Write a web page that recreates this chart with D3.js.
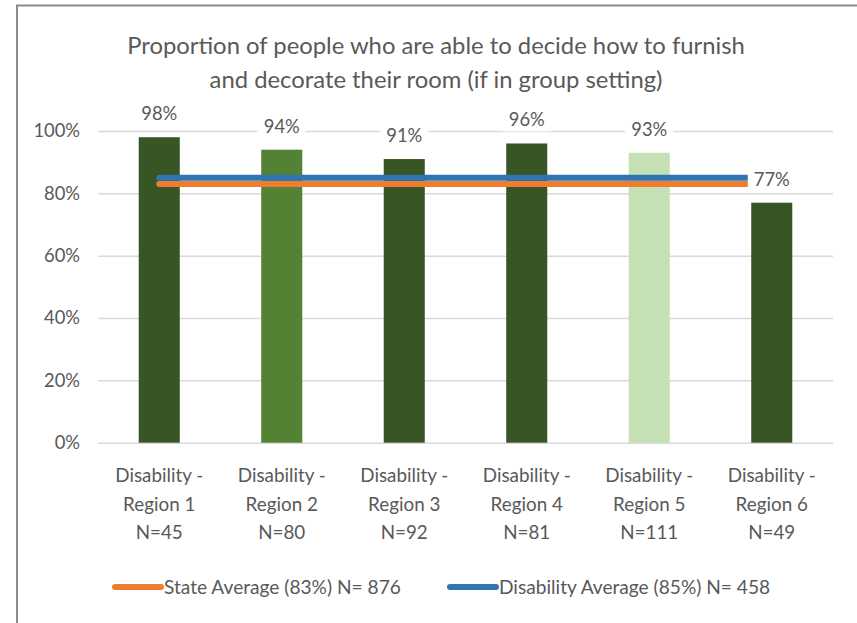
<!DOCTYPE html>
<html>
<head>
<meta charset="utf-8">
<script src="https://cdn.jsdelivr.net/npm/d3@7"></script>
<style>
  html, body { margin: 0; padding: 0; background: #fff; }
  svg { display: block; }
  text { font-family: Lato, "Open Sans", sans-serif; fill: #595959; }
</style>
</head>
<body>
<svg id="chart" width="857" height="623"></svg>
<script>
// Regions and their share of people able to choose furnishings/decor
const categories = [
  ["Disability -", "Region 1", "N=45"],
  ["Disability -", "Region 2", "N=80"],
  ["Disability -", "Region 3", "N=92"],
  ["Disability -", "Region 4", "N=81"],
  ["Disability -", "Region 5", "N=111"],
  ["Disability -", "Region 6", "N=49"]
];
const values = [98, 94, 91, 96, 93, 77];
const barColors = ["#375623", "#548235", "#375623", "#375623", "#C5E0B4", "#375623"];

// Reference averages drawn as horizontal lines
const averageNames = ["State Average (83%) N= 876", "Disability Average (85%) N= 458"];
const averageValues = [83, 85];
const averageColors = ["#ED7D31", "#2E75B6"];
// Span of the average lines, in category units along the x axis
const lineSpan = [0.5, 5.3];

const yTicks = [0, 20, 40, 60, 80, 100];
const titleLines = [
  "Proportion of people who are able to decide how to furnish",
  "and decorate their room (if in group setting)"
];

const averages = averageNames.map((name, i) => ({ name, value: averageValues[i], color: averageColors[i] }));

const svg = d3.select("#chart");
const plot = { left: 98, right: 833, top: 131, bottom: 442.7 };

// Pick a font size so that a sample string renders at the wanted width
function fitSize(sample, width) {
  const t = svg.append("text").attr("font-size", 100).text(sample);
  const w = t.node().getComputedTextLength();
  t.remove();
  return 100 * width / w;
}
const titleSize = fitSize(titleLines[0], 618);
const catSize = fitSize("Disability -", 88);
const tickSize = fitSize("80%", 36);
const legendSize = fitSize(averageNames[0], 237);

// Chart frame
svg.append("path")
  .attr("d", `M17,623 V5.5 H857`)
  .attr("fill", "none")
  .attr("stroke", "#8C8C8C")
  .attr("stroke-width", 2);

const x = d3.scaleBand()
  .domain(d3.range(categories.length))
  .range([plot.left, plot.right])
  .paddingInner(0.665)
  .paddingOuter(0.3325);
const xLin = d3.scaleLinear().domain([0, categories.length]).range([plot.left, plot.right]);
const y = d3.scaleLinear().domain([0, 100]).range([plot.bottom, plot.top]);

// Title
svg.append("g").selectAll("text")
  .data(titleLines)
  .join("text")
  .attr("x", 436)
  .attr("y", (d, i) => 54 + i * 34)
  .attr("text-anchor", "middle")
  .attr("font-size", titleSize)
  .text(d => d);

// Gridlines and y tick labels
const yAxis = svg.append("g")
  .attr("transform", `translate(${plot.left},0)`)
  .call(d3.axisLeft(y).tickValues(yTicks).tickFormat(d => d + "%")
    .tickSize(-(plot.right - plot.left)).tickPadding(18));
yAxis.select(".domain").remove();
yAxis.selectAll(".tick line").attr("stroke", "#D9D9D9").attr("stroke-width", 1.5);
yAxis.selectAll(".tick text")
  .attr("font-size", tickSize)
  .attr("fill", "#595959")
  .attr("font-family", "Lato, 'Open Sans', sans-serif");

// Bars
svg.append("g").selectAll("rect")
  .data(values)
  .join("rect")
  .attr("x", (d, i) => x(i))
  .attr("width", x.bandwidth())
  .attr("y", d => y(d))
  .attr("height", d => y(0) - y(d))
  .attr("fill", (d, i) => barColors[i]);

// Average lines
svg.append("g").selectAll("line")
  .data(averages)
  .join("line")
  .attr("x1", xLin(lineSpan[0]))
  .attr("x2", xLin(lineSpan[1]))
  .attr("y1", d => y(d.value))
  .attr("y2", d => y(d.value))
  .attr("stroke", d => d.color)
  .attr("stroke-width", 6)
  .attr("stroke-linecap", "round");

// Value labels with white backing
const labels = svg.append("g").selectAll("g")
  .data(values)
  .join("g")
  .attr("transform", (d, i) => `translate(${x(i) + x.bandwidth() / 2},${y(d) - 17})`);
const labelRects = labels.append("rect").attr("fill", "#fff");
labels.append("text")
  .attr("text-anchor", "middle")
  .attr("font-size", tickSize)
  .text(d => d + "%")
  .each(function () {
    const b = this.getBBox();
    d3.select(this.parentNode).select("rect")
      .attr("x", b.x - 6).attr("y", b.y - 1)
      .attr("width", b.width + 12).attr("height", b.height + 2);
  });

// Category labels
const cat = svg.append("g").selectAll("text")
  .data(categories)
  .join("text")
  .attr("text-anchor", "middle")
  .attr("font-size", catSize)
  .attr("x", (d, i) => x(i) + x.bandwidth() / 2);
cat.selectAll("tspan")
  .data(d => d)
  .join("tspan")
  .attr("x", function () { return d3.select(this.parentNode).attr("x"); })
  .attr("y", (d, i) => 482 + i * 28.7)
  .text(d => d);

// Legend
const legendX = [113, 448];
const leg = svg.append("g").selectAll("g")
  .data(averages)
  .join("g")
  .attr("transform", (d, i) => `translate(${legendX[i]},587)`);
leg.append("line")
  .attr("x1", 2).attr("x2", 48)
  .attr("stroke", d => d.color)
  .attr("stroke-width", 6)
  .attr("stroke-linecap", "round");
leg.append("text")
  .attr("x", 51)
  .attr("y", legendSize * 0.36)
  .attr("font-size", legendSize)
  .text(d => d.name);
</script>
</body>
</html>
